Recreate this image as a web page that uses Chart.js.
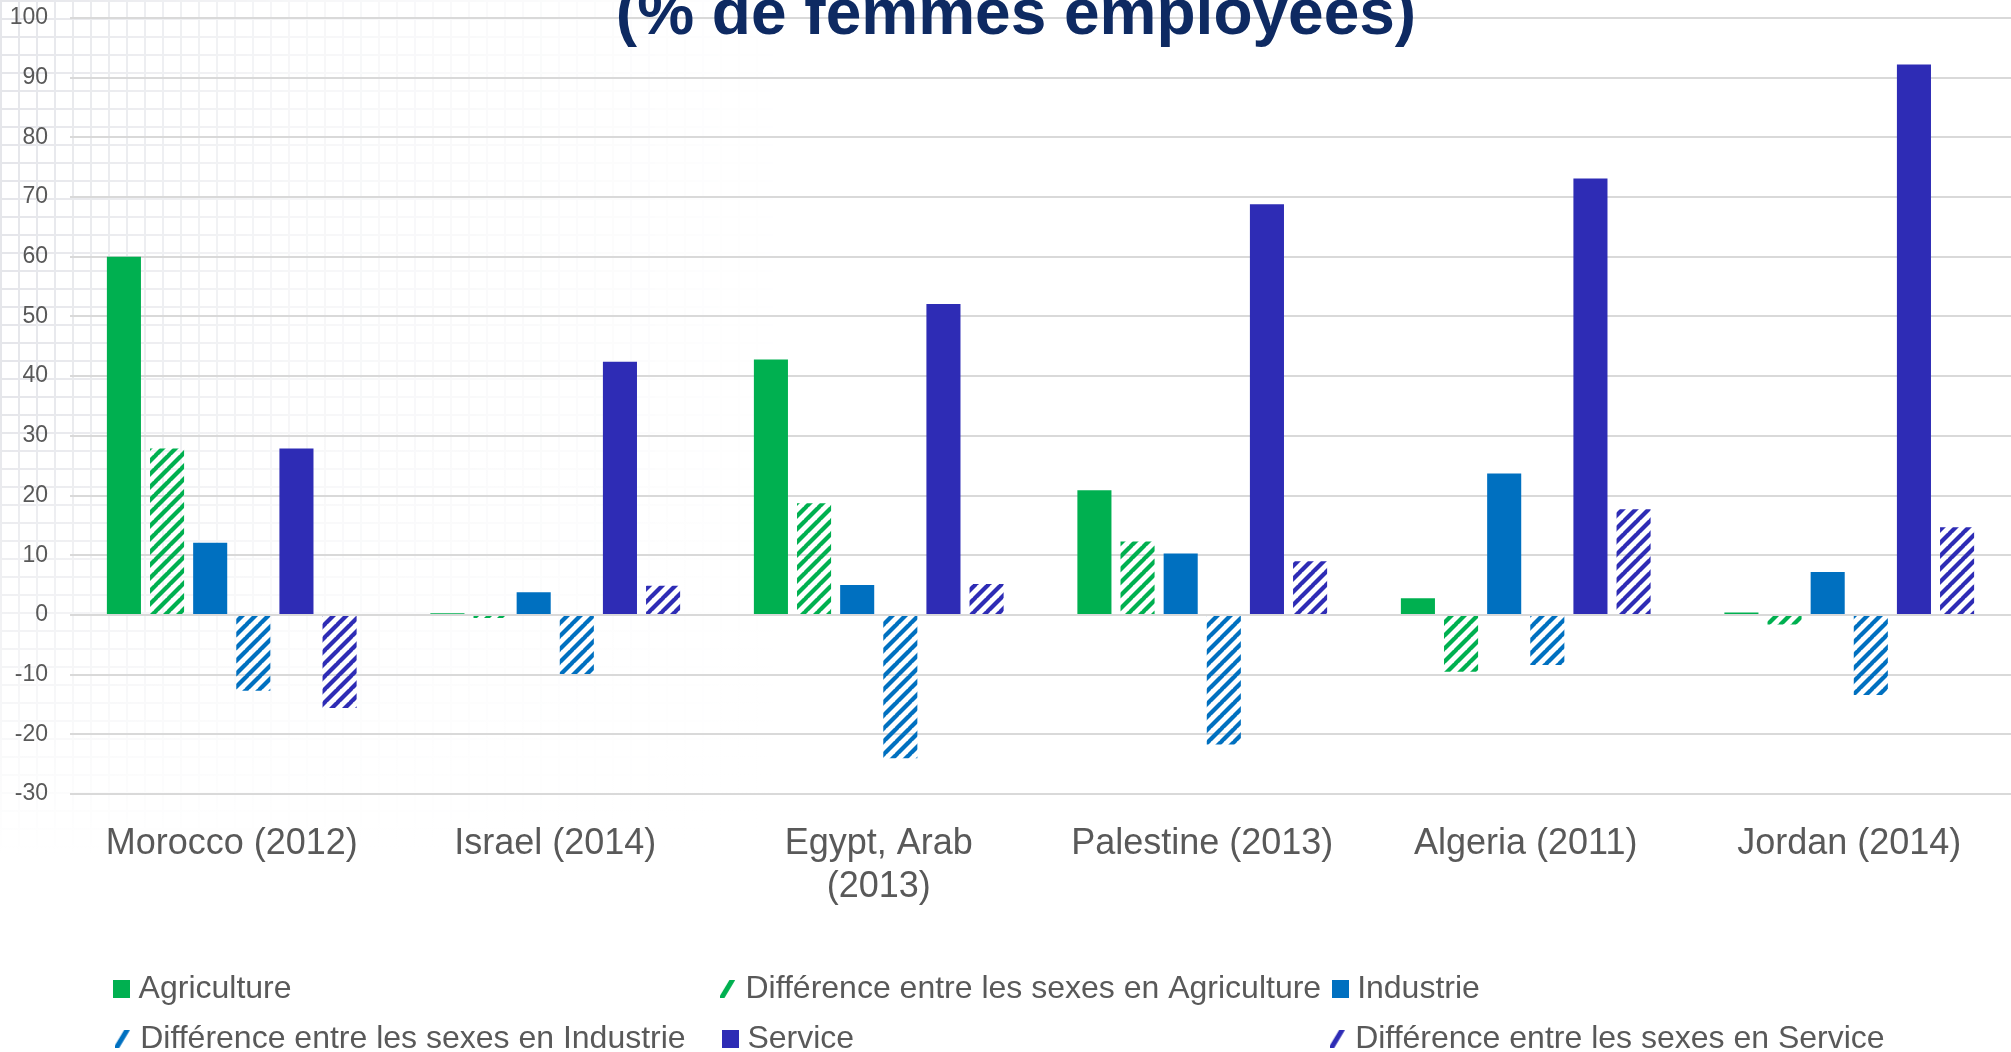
<!DOCTYPE html>
<html>
<head>
<meta charset="utf-8">
<script src="https://cdn.jsdelivr.net/npm/chart.js@4.4.1/dist/chart.umd.min.js"></script>
<style>
  html, body { margin: 0; padding: 0; background: #ffffff; overflow: hidden; }
  #wrap { position: relative; width: 2011px; height: 1065px; }
  /* faint squared-paper decoration on the left of the slide */
  #paper {
    position: absolute; left: 0; top: 0; width: 1000px; height: 900px;
    background-image:
      linear-gradient(#dcdde3 2px, transparent 2px),
      linear-gradient(90deg, #dcdde3 2px, transparent 2px);
    background-size: 18px 18px;
    -webkit-mask-image: linear-gradient(to right, rgba(0,0,0,0.75), rgba(0,0,0,0.25) 30%, transparent 80%);
    mask-image: linear-gradient(to right, rgba(0,0,0,0.75), rgba(0,0,0,0.25) 30%, transparent 80%);
  }
  #fade {
    position: absolute; left: 0; top: 0; width: 1000px; height: 900px;
    background: linear-gradient(to bottom, rgba(255,255,255,0) 45%, #ffffff 95%);
  }
  #chart { position: absolute; left: 0; top: 0; }
</style>
</head>
<body>
<div id="wrap">
  <div id="paper"></div>
  <div id="fade"></div>
  <canvas id="chart" width="2011" height="1065"></canvas>
</div>
<script>
// ---- data ----
const countries = ["Morocco (2012)", "Israel (2014)", ["Egypt, Arab", "(2013)"], "Palestine (2013)", "Algeria (2011)", "Jordan (2014)"];
const agriculture    = [60.0, 0.3, 42.8, 20.9, 2.8, 0.4];
const agricultureGap = [27.9, -0.5, 18.7, 12.3, -9.5, -1.6];
const industry       = [12.1, 3.8, 5.0, 10.3, 23.7, 7.2];
const industryGap    = [-12.7, -9.9, -24.0, -21.7, -8.4, -13.4];
const service        = [27.9, 42.4, 52.1, 68.8, 73.1, 92.2];
const serviceGap     = [-15.6, 4.9, 5.2, 9.0, 17.7, 14.7];
const seriesNames = [
  "Agriculture",
  "Différence entre les sexes en Agriculture",
  "Industrie",
  "Différence entre les sexes en Industrie",
  "Service",
  "Différence entre les sexes en Service"
];
const titleText = "(% de femmes employées)";

const GREEN = "#00b050";
const BLUE = "#0070c0";
const INDIGO = "#2e2cb5";
const TEXT = "#595959";
const FONT = "'Liberation Sans', Arial, sans-serif";

/**
 * Diagonal "/" hatch used for the gender-gap series
 */
function hatch(color) {
  const s = 13;
  const c = document.createElement("canvas");
  c.width = s; c.height = s;
  const g = c.getContext("2d");
  g.strokeStyle = color;
  g.lineWidth = 4.2;
  for (let k = -1; k <= 1; k++) {
    g.beginPath();
    g.moveTo(k * s - 1, s + 1);
    g.lineTo(k * s + s + 1, -1);
    g.stroke();
  }
  return g.createPattern(c, "repeat");
}

// legend swatches
function solidIcon(color) {
  const c = document.createElement("canvas");
  c.width = 17; c.height = 18;
  const g = c.getContext("2d");
  g.fillStyle = color;
  g.fillRect(0, 0, 17, 18);
  return c;
}
function hatchIcon(color) {
  const c = document.createElement("canvas");
  c.width = 17; c.height = 18;
  const g = c.getContext("2d");
  g.strokeStyle = color;
  g.lineWidth = 5;
  g.beginPath();
  g.moveTo(1, 19);
  g.lineTo(13, -1);
  g.stroke();
  return c;
}

const colors = [GREEN, GREEN, BLUE, BLUE, INDIGO, INDIGO];
const values = [agriculture, agricultureGap, industry, industryGap, service, serviceGap];
const icons = colors.map((col, i) => (i % 2 === 0 ? solidIcon(col) : hatchIcon(col)));

const datasets = values.map((v, i) => ({
  label: seriesNames[i],
  data: v,
  backgroundColor: i % 2 === 0 ? colors[i] : hatch(colors[i]),
  borderWidth: 0,
  categoryPercentage: 0.8,
  barPercentage: 0.79,
  pointStyle: icons[i]
}));

// Excel lays the legend out in fixed columns; pad names to the column width
const legendFontSize = 32;
const columnText = [572, 573, 545];
const measureCtx = document.createElement("canvas").getContext("2d");
measureCtx.font = `${legendFontSize}px ${FONT}`;
function padTo(text, target) {
  let t = text;
  while (measureCtx.measureText(t + " ").width <= target) t += " ";
  while (measureCtx.measureText(t + "\u200A").width <= target) t += "\u200A";
  return t;
}

// bold title, partly cut off by the top edge like in the slide
const titlePlugin = {
  id: "slideTitle",
  afterDraw(chart) {
    const ctx = chart.ctx;
    ctx.save();
    ctx.font = `bold 64px ${FONT}`;
    ctx.fillStyle = "#0e2a62";
    ctx.textAlign = "center";
    ctx.textBaseline = "alphabetic";
    ctx.fillText(titleText, 1016, 34);
    ctx.restore();
  }
};

new Chart(document.getElementById("chart"), {
  type: "bar",
  data: { labels: countries, datasets },
  plugins: [titlePlugin],
  options: {
    responsive: false,
    animation: false,
    devicePixelRatio: 1,
    layout: { padding: { top: 18, left: 10, right: 0, bottom: 0 } },
    plugins: {
      title: { display: false },
      tooltip: { enabled: false },
      legend: {
        position: "bottom",
        align: "center",
        labels: {
          usePointStyle: true,
          pointStyleWidth: 2,
          boxHeight: 18,
          padding: 18,
          color: TEXT,
          font: { family: FONT, size: legendFontSize },
          generateLabels(chart) {
            const items = Chart.defaults.plugins.legend.labels.generateLabels(chart);
            items.forEach((it, i) => {
              it.text = padTo(it.text, columnText[i % 3]);
            });
            return items;
          }
        }
      }
    },
    scales: {
      x: {
        grid: { display: false, drawTicks: false },
        border: { display: false },
        ticks: {
          color: TEXT,
          padding: 28,
          maxRotation: 0,
          autoSkip: false,
          font: { family: FONT, size: 36 }
        },
        afterFit(scale) { scale.height = 161; }
      },
      y: {
        min: -30,
        max: 100,
        // hidden tick marks only make room between labels and plot
        grid: { color: "#d9d9d9", lineWidth: 2, drawTicks: true, tickLength: 18, tickColor: "rgba(0,0,0,0)" },
        border: { display: false },
        ticks: {
          stepSize: 10,
          color: TEXT,
          padding: 4,
          font: { family: FONT, size: 23 }
        },
        afterFit(scale) { scale.width = 60; }
      }
    }
  }
});
</script>
</body>
</html>
